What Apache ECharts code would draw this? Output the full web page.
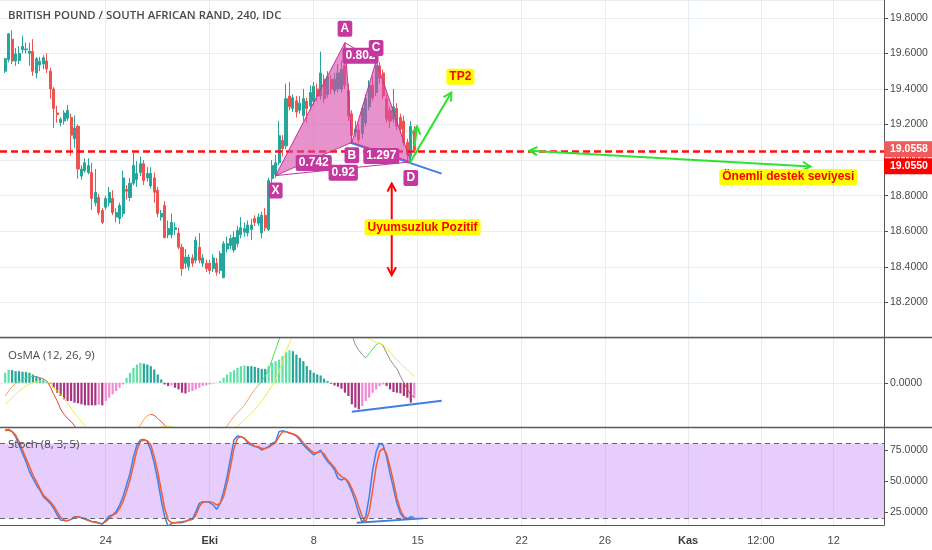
<!DOCTYPE html>
<html><head><meta charset="utf-8">
<script src="https://cdn.jsdelivr.net/npm/echarts@6/dist/echarts.min.js"></script>
<style>html,body{margin:0;padding:0;background:#fff}#c{width:932px;height:550px}</style>
</head><body><div id="c"></div>
<script>
// ---------------- DATA ----------------
const SLOT_COUNT = 255;          // bar slots on the time axis (incl. future space)
const FIRST_INDEX = 1;           // slot of the first candle
const xTickIndex = [30, 60, 90, 120, 150, 174, 198, 219, 240];
const xTickText  = ['24', 'Eki', '8', '15', '22', '26', 'Kas', '12:00', '12'];
const xTickBold  = ['Eki', 'Kas'];
const titleText = 'BRITISH POUND / SOUTH AFRICAN RAND, 240, IDC';
const osmaTitle = 'OsMA (12, 26, 9)';
const stochTitle = 'Stoch (8, 3, 5)';

// candles: [open, close, low, high]
const candles = [
[19.50,19.57,19.49,19.575],[19.565,19.71,19.55,19.715],[19.68,19.557,19.54,19.73],[19.557,19.597,19.53,19.63],
[19.56,19.60,19.54,19.64],[19.62,19.64,19.60,19.70],[19.62,19.625,19.60,19.66],[19.60,19.613,19.53,19.66],
[19.61,19.50,19.473,19.68],[19.49,19.57,19.46,19.58],[19.535,19.555,19.50,19.58],[19.54,19.575,19.51,19.59],
[19.557,19.513,19.49,19.60],[19.50,19.40,19.345,19.52],[19.40,19.29,19.18,19.41],[19.265,19.255,19.21,19.305],
[19.21,19.23,19.19,19.24],[19.22,19.265,19.20,19.28],[19.235,19.28,19.22,19.31],[19.24,19.14,19.025,19.26],
[19.12,19.18,19.07,19.25],[19.19,18.95,18.895,19.20],[18.91,18.95,18.89,18.97],[18.94,18.985,18.93,19.01],
[18.93,18.97,18.92,19.01],[18.93,18.785,18.72,18.985],[18.76,18.818,18.74,18.95],[18.79,18.705,18.69,18.81],
[18.717,18.65,18.64,18.73],[18.735,18.784,18.72,18.80],[18.76,18.818,18.74,18.85],[18.784,18.705,18.69,18.83],
[18.68,18.705,18.65,18.73],[18.672,18.745,18.64,18.76],[18.70,18.90,18.68,18.94],[18.835,18.825,18.78,18.86],
[18.79,18.87,18.77,18.90],[18.87,18.97,18.86,19.04],[18.89,18.925,18.85,18.995],[18.93,18.98,18.91,19.02],
[18.98,18.885,18.86,19.00],[18.90,18.925,18.88,18.96],[18.855,18.925,18.84,18.96],[18.90,18.82,18.76,18.93],
[18.83,18.70,18.68,18.85],[18.68,18.70,18.66,18.72],[18.745,18.565,18.56,18.77],[18.58,18.615,18.56,18.66],
[18.58,18.65,18.56,18.70],[18.61,18.62,18.58,18.65],[18.59,18.51,18.50,18.62],[18.51,18.39,18.35,18.53],
[18.42,18.455,18.39,18.50],[18.40,18.455,18.38,18.47],[18.45,18.42,18.40,18.47],[18.437,18.55,18.42,18.57],
[18.51,18.437,18.42,18.59],[18.42,18.45,18.40,18.47],[18.42,18.39,18.37,18.44],[18.42,18.38,18.36,18.44],
[18.39,18.45,18.37,18.47],[18.42,18.37,18.35,18.45],[18.38,18.475,18.36,18.49],[18.34,18.53,18.335,18.545],
[18.50,18.53,18.48,18.57],[18.52,18.56,18.50,18.58],[18.495,18.565,18.48,18.60],[18.53,18.605,18.51,18.63],
[18.58,18.62,18.56,18.68],[18.595,18.615,18.57,18.65],[18.59,18.635,18.57,18.66],[18.61,18.635,18.55,18.67],
[18.672,18.65,18.63,18.69],[18.645,18.68,18.63,18.70],[18.59,18.69,18.56,18.71],[18.69,18.62,18.60,18.73],
[18.61,18.885,18.60,18.90],[18.897,18.97,18.87,19.00],[18.92,18.985,18.90,19.03],[18.985,19.137,18.97,19.22],
[19.11,19.065,19.02,19.14],[19.08,19.345,19.06,19.43],[19.36,19.30,19.28,19.44],[19.29,19.35,19.27,19.37],
[19.333,19.27,19.24,19.36],[19.28,19.32,19.26,19.36],[19.25,19.345,19.22,19.40],[19.33,19.29,19.21,19.35],
[19.305,19.38,19.28,19.42],[19.33,19.415,19.31,19.44],[19.40,19.36,19.33,19.43],[19.36,19.49,19.34,19.61],
[19.455,19.345,19.32,19.48],[19.37,19.47,19.35,19.50],[19.455,19.40,19.37,19.48],[19.39,19.455,19.37,19.49],
[19.40,19.49,19.38,19.54],[19.40,19.51,19.38,19.56],[19.53,19.42,19.40,19.66],[19.39,19.25,19.22,19.43],
[19.26,19.14,19.10,19.28],[19.155,19.175,19.13,19.22],[19.17,19.115,19.095,19.20],[19.15,19.29,19.12,19.31],
[19.21,19.345,19.19,19.37],[19.30,19.42,19.28,19.45],[19.42,19.35,19.33,19.47],[19.38,19.53,19.36,19.56],
[19.53,19.46,19.43,19.55],[19.49,19.36,19.34,19.51],[19.345,19.23,19.21,19.37],[19.28,19.22,19.18,19.30],
[19.23,19.30,19.21,19.40],[19.29,19.19,19.17,19.32],[19.24,19.175,19.15,19.26],[19.22,19.10,19.08,19.25],
[19.10,19.03,18.99,19.12],[19.02,19.19,19.00,19.22],[19.17,19.0558,19.04,19.19]
];

const osma = [
0.010,0.013,0.0127,0.0117,0.0117,0.011,0.0107,0.010,0.0083,0.0067,
0.005,0.0033,0.0017,-0.001,-0.005,-0.010,-0.0133,-0.0167,-0.0183,-0.0183,
-0.020,-0.0207,-0.0217,-0.0227,-0.0227,-0.0227,-0.0227,-0.022,-0.0227,-0.0183,
-0.015,-0.0117,-0.0083,-0.005,-0.0017,0.005,0.010,0.015,0.0183,0.020,
0.0193,0.0183,0.0167,0.0133,0.0083,0.0033,-0.0017,-0.0033,-0.0027,-0.005,
-0.0067,-0.010,-0.0107,-0.0093,-0.0083,-0.0067,-0.005,-0.0033,-0.0027,-0.0017,
-0.0007,0.0003,0.0017,0.005,0.0083,0.0107,0.0127,0.015,0.0167,0.0173,
0.0167,0.0167,0.016,0.015,0.014,0.014,0.0167,0.020,0.0217,0.0233,
0.0267,0.0307,0.0327,0.0317,0.0283,0.025,0.0217,0.0167,0.0127,0.010,
0.0083,0.0073,0.004,0.0017,-0.001,-0.0027,-0.004,-0.006,-0.010,-0.0133,
-0.0217,-0.025,-0.0267,-0.0233,-0.0183,-0.015,-0.010,-0.0067,-0.0033,-0.0017,
-0.0033,-0.0067,-0.0093,-0.010,-0.0107,-0.0133,-0.015,-0.020,-0.015
];

const macd = [
-0.0133,-0.0083,-0.004,-0.0007,0.0017,0.0033,0.005,0.006,0.0067,0.006,
0.005,0.004,0.0017,-0.004,-0.0117,-0.0183,-0.0267,-0.0317,-0.036,-0.039,
-0.0433,-0.048,-0.053,-0.058,-0.062,-0.066,-0.070,-0.074,-0.077,-0.079,
-0.080,-0.079,-0.076,-0.071,-0.065,-0.059,-0.054,-0.050,-0.0467,-0.0427,
-0.0367,-0.0333,-0.0317,-0.0327,-0.036,-0.039,-0.0427,-0.046,-0.050,-0.054,
-0.058,-0.062,-0.066,-0.068,-0.070,-0.071,-0.071,-0.070,-0.068,-0.066,
-0.063,-0.059,-0.055,-0.050,-0.0433,-0.0383,-0.034,-0.030,-0.0267,-0.0227,
-0.0173,-0.0117,-0.0067,-0.0027,0.0017,0.0067,0.0133,0.0233,0.0333,0.0433,
0.053,0.065,0.075,0.083,0.090,0.095,0.098,0.100,0.100,0.099,
0.097,0.095,0.092,0.088,0.084,0.080,0.077,0.074,0.071,0.060,
0.048,0.0383,0.0327,0.0283,0.025,0.0293,0.034,0.0383,0.040,0.0373,
0.030,0.0233,0.0183,0.014,0.0067,0,-0.0067,-0.0117,-0.015
];

const signal = [
-0.0217,-0.0183,-0.015,-0.0117,-0.0083,-0.0057,-0.0033,-0.0017,0,0.001,
0.0017,0.0017,0.001,-0.0007,-0.005,-0.0083,-0.0117,-0.016,-0.0207,-0.026,
-0.0307,-0.035,-0.039,-0.0433,-0.047,-0.051,-0.054,-0.057,-0.060,-0.062,
-0.064,-0.065,-0.066,-0.066,-0.066,-0.065,-0.063,-0.061,-0.059,-0.057,
-0.055,-0.053,-0.051,-0.049,-0.047,-0.0445,-0.0437,-0.0435,-0.044,-0.0455,
-0.047,-0.049,-0.051,-0.053,-0.055,-0.057,-0.059,-0.060,-0.061,-0.061,
-0.061,-0.060,-0.059,-0.058,-0.056,-0.054,-0.049,-0.0433,-0.0407,-0.0373,
-0.034,-0.0307,-0.0267,-0.0227,-0.0183,-0.0133,-0.0083,-0.0027,0.0033,0.0117,
0.020,0.0317,0.040,0.048,0.055,0.062,0.068,0.073,0.077,0.080,
0.082,0.083,0.084,0.084,0.083,0.081,0.079,0.077,0.074,0.071,
0.067,0.063,0.058,0.053,0.0467,0.0443,0.0423,0.0407,0.0393,0.0383,
0.035,0.0307,0.0267,0.0227,0.0193,0.016,0.0127,0.0093,0.0067
];

const stochK = [
90.8,91.3,89.5,85.5,78.8,72.1,65.5,57.5,52.1,46.8,
42.8,37.5,34.8,32.1,28.1,22.8,18.8,18.3,18.3,19.3,
21.5,21.5,20.7,20.1,18.8,17.5,17.5,16.7,15.3,18.8,
22.0,22.8,25.5,30.8,37.5,46.8,56.1,69.5,78.8,82.8,
83.3,81.5,74.8,64.1,50.8,34.8,21.5,13.5,16.1,16.7,
16.7,16.7,17.5,18.8,19.3,25.5,32.1,33.5,33.5,32.7,
30.8,27.3,32.1,41.5,53.5,68.1,82.8,86.0,85.5,84.1,
80.1,78.8,77.5,76.9,74.8,76.1,77.5,80.1,81.5,89.5,
90.3,89.5,88.1,87.6,86.0,82.8,78.8,76.1,73.5,70.8,
72.7,74.8,69.5,65.5,62.8,58.8,52.1,50.8,52.1,48.1,
41.5,33.5,24.1,16.7,21.5,37.5,58.8,73.5,80.1,78.8,
69.5,56.1,44.1,32.1,24.1,20.1,19.3,21.5,20.7
];

const stochD = [
90.3,90.8,89.5,86.8,81.5,74.8,68.1,61.5,54.8,49.5,
44.1,38.8,36.1,33.5,30.0,25.5,20.9,18.8,18.3,19.3,
20.9,21.5,20.7,19.3,18.3,17.5,16.7,16.1,16.1,17.5,
20.1,22.8,24.1,28.1,33.5,41.5,50.8,62.8,74.8,81.5,
82.8,82.3,78.8,69.5,57.5,42.8,28.1,18.8,16.7,16.7,
17.2,17.5,18.0,18.8,19.3,22.8,29.5,33.0,33.5,33.5,
32.7,30.8,32.1,37.5,48.1,61.5,76.1,84.1,85.5,84.1,
81.5,79.5,77.9,77.5,76.1,76.1,76.9,78.8,80.7,85.5,
89.5,89.5,88.7,87.6,86.5,84.1,80.7,77.5,74.8,72.7,
72.7,73.5,71.6,67.3,64.1,60.9,56.1,53.5,52.1,49.5,
44.1,37.5,29.5,21.5,17.5,25.5,42.8,61.5,73.5,76.1,
72.1,61.5,49.5,36.1,26.8,21.5,20.1,20.1,20.9
];

const supportLevel = 19.0550;
const lastPrice = 19.0558;
const stochLevels = [20, 80];
const stochTickValues = [25, 50, 75];

// Harmonic pattern anchors (slot index, price)
const patternNames = ['X', 'A', 'B', 'C', 'D'];
const patternIdx   = [79, 99, 101, 108, 118];
const patternPrice = [18.913, 19.66, 19.10, 19.557, 18.99];
const ratioText    = ['0.742', '0.92', '1.297', '0.802'];   // XB, XD, BD, AC

// drawings (slot index, value)
const tp2Arrow     = [[117.7, 18.983], [129.7, 19.38]];
const smallArrow   = [[119.1, 19.08], [119.8, 19.19]];
const redArrow     = [[112.5, 18.868], [112.5, 18.353]];
const supportArrow = [[152.2, 19.053], [233.3, 18.964]];
const blueTrend    = [[100.4, 19.098], [126.9, 18.924]];
const osmaTrend    = [[101.0, -0.0291], [126.9, -0.0181]];
const stochTrend   = [[102.4, 16.6], [121.6, 20.1]];
const noteTP2      = {text: 'TP2', at: [132.3, 19.468]};
const noteDiv      = {text: 'Uyumsuzluk Pozitif', at: [121.4, 18.622]};
const noteSupport  = {text: 'Önemli destek seviyesi', at: [226.9, 18.905]};

// ---------------- CHART ----------------
const FONT = '"Liberation Sans", Arial, sans-serif';
const TITLE_FONT = '"Open Sans", "Noto Sans", sans-serif';
const AXIS_COLOR = '#555';
const GRID_COLOR = '#e6edf3';
const LABEL_COLOR = '#4a4a4a';
const cats = Array.from({length: SLOT_COUNT}, (_, i) => String(i));
const tickSet = new Set(xTickIndex);

const chart = echarts.init(document.getElementById('c'), null, {renderer: 'canvas'});

function xAxisCfg(gi, showLabels) {
  return {
    type: 'category', gridIndex: gi, data: cats, boundaryGap: true,
    axisLine: {show: showLabels, onZero: false, lineStyle: {color: AXIS_COLOR, width: 1}},
    axisTick: {show: false},
    axisLabel: {
      show: showLabels, interval: (i) => tickSet.has(i), color: LABEL_COLOR,
      fontSize: 11, fontFamily: FONT, margin: 10,
      formatter: (v) => {
        const t = xTickText[xTickIndex.indexOf(Number(v))];
        return xTickBold.includes(t) ? '{b|' + t + '}' : t;
      },
      rich: {b: {fontWeight: 'bold', color: '#3c3c3c', fontSize: 11, fontFamily: FONT}}
    },
    splitLine: {show: true, interval: (i) => tickSet.has(i), alignWithLabel: true, lineStyle: {color: GRID_COLOR, width: 1}}
  };
}

const yBase = {
  type: 'value', position: 'right',
  axisLine: {show: true, lineStyle: {color: AXIS_COLOR, width: 1}},
  axisTick: {show: true, length: 4, lineStyle: {color: AXIS_COLOR}},
  axisLabel: {color: LABEL_COLOR, fontSize: 10.5, fontFamily: FONT, margin: 6}
};

// OsMA histogram colours
const osmaData = osma.map((v, i) => {
  const p = i > 0 ? osma[i - 1] : v - 0.001;
  let c;
  if (v >= 0) c = v > p ? '#5ee0a6' : '#26a69a';
  else c = v <= p ? '#a8357f' : '#f08ad6';
  return {value: [FIRST_INDEX + i, v], itemStyle: {color: c}};
});

// MACD line coloured by state
function macdColor(i) {
  const v = macd[i];
  const rising = i > 0 ? v >= macd[i - 1] : macd[1] >= macd[0];
  if (v >= 0) return rising ? '#4fdc6a' : '#8c8c8c';
  return rising ? '#ff9f5a' : '#f23b3b';
}
const macdSeries = [];
let cur = null;
for (let i = 1; i < macd.length; i++) {
  const col = macdColor(i);
  if (!cur || cur.color !== col) {
    cur = {color: col, pts: [[FIRST_INDEX + i - 1, macd[i - 1]]]};
    macdSeries.push(cur);
  }
  cur.pts.push([FIRST_INDEX + i, macd[i]]);
}

const option = {
  animation: false,
  backgroundColor: '#ffffff',
  grid: [
    {left: -3, right: 48, top: -1.15, height: 339.15},
    {left: -3, right: 48, top: 338, height: 89.5},
    {left: -3, right: 48, top: 427.5, height: 97.5}
  ],
  xAxis: [xAxisCfg(0, false), xAxisCfg(1, false), xAxisCfg(2, true)],
  yAxis: [
    Object.assign({}, yBase, {
      gridIndex: 0, min: 18.0, max: 19.9, interval: 0.2,
      axisLabel: Object.assign({}, yBase.axisLabel, {formatter: (v) => v.toFixed(4), showMinLabel: false, showMaxLabel: false}),
      splitLine: {show: true, lineStyle: {color: GRID_COLOR}}
    }),
    Object.assign({}, yBase, {
      gridIndex: 1, min: -0.045, max: 0.045, interval: 0.045,
      axisLabel: Object.assign({}, yBase.axisLabel, {formatter: (v) => Math.abs(v) < 1e-9 ? '0.0000' : '', showMinLabel: false, showMaxLabel: false}),
      splitLine: {show: true, lineStyle: {color: GRID_COLOR}}
    }),
    Object.assign({}, yBase, {
      gridIndex: 2, min: 14.8, max: 92.8,
      axisLabel: Object.assign({}, yBase.axisLabel, {customValues: stochTickValues, formatter: (v) => v.toFixed(4)}),
      axisTick: Object.assign({}, yBase.axisTick, {customValues: stochTickValues}),
      splitLine: {show: false}
    })
  ],
  series: [
    {
      type: 'candlestick', xAxisIndex: 0, yAxisIndex: 0,
      data: candles.map((c, i) => [FIRST_INDEX + i, c[0], c[1], c[2], c[3]]),
      encode: {x: 0, y: [1, 2, 3, 4]},
      barWidth: 2.6,
      itemStyle: {color: '#26a69a', color0: '#ef5350', borderColor: '#26a69a', borderColor0: '#ef5350', borderWidth: 1},
      markLine: {
        silent: true, symbol: ['none', 'none'], animation: false,
        label: {show: false},
        lineStyle: {color: '#ff1010', width: 2.5, type: [7, 4]},
        data: [{yAxis: supportLevel}]
      }
    },
    {
      type: 'bar', xAxisIndex: 1, yAxisIndex: 1, barWidth: 2.2, data: osmaData, z: 2
    },
    ...macdSeries.map(s => ({
      type: 'line', xAxisIndex: 1, yAxisIndex: 1, data: s.pts, showSymbol: false, symbol: 'none',
      lineStyle: {color: s.color, width: 1}, z: 3, clip: true
    })),
    {
      type: 'line', xAxisIndex: 1, yAxisIndex: 1, showSymbol: false, symbol: 'none', clip: true,
      data: signal.map((v, i) => [FIRST_INDEX + i, v]),
      lineStyle: {color: '#f2ec3a', width: 1}, z: 3
    },
    {
      type: 'line', xAxisIndex: 2, yAxisIndex: 2, showSymbol: false, symbol: 'none', clip: true,
      data: stochK.map((v, i) => [FIRST_INDEX + i, v]),
      lineStyle: {color: '#3b82f0', width: 1.5}, z: 3,
      markArea: {
        silent: true, label: {show: false},
        itemStyle: {color: 'rgba(176, 100, 245, 0.32)'},
        data: [[{yAxis: stochLevels[0]}, {yAxis: stochLevels[1]}]]
      },
      markLine: {
        silent: true, symbol: ['none', 'none'], label: {show: false},
        lineStyle: {color: '#666', width: 1, type: [5, 4]},
        data: stochLevels.map(v => ({yAxis: v}))
      }
    },
    {
      type: 'line', xAxisIndex: 2, yAxisIndex: 2, showSymbol: false, symbol: 'none', clip: true,
      data: stochD.map((v, i) => [FIRST_INDEX + i, v]),
      lineStyle: {color: '#f75c2d', width: 1.5}, z: 4
    }
  ]
};
chart.setOption(option);

// ---------------- DRAWINGS ----------------
function toPx(g, k, v) {
  const k0 = Math.floor(k);
  const p0 = chart.convertToPixel({xAxisIndex: g, yAxisIndex: g}, [k0, v]);
  const p1 = chart.convertToPixel({xAxisIndex: g, yAxisIndex: g}, [k0 + 1, v]);
  return [p0[0] + (k - k0) * (p1[0] - p0[0]), p0[1]];
}
function seg(a, b, color, w, z, dash) {
  return {type: 'line', shape: {x1: a[0], y1: a[1], x2: b[0], y2: b[1]}, style: {stroke: color, lineWidth: w, lineDash: dash || null}, z: z, silent: true};
}
function head(from, to, color, w, z) {
  const dx = to[0] - from[0], dy = to[1] - from[1];
  const L = Math.hypot(dx, dy), ux = dx / L, uy = dy / L;
  const len = 9, a = 0.5;
  const r = (ang) => [to[0] - len * (ux * Math.cos(ang) - uy * Math.sin(ang)), to[1] - len * (uy * Math.cos(ang) + ux * Math.sin(ang))];
  return {type: 'polyline', shape: {points: [r(a), to, r(-a)]}, style: {stroke: color, lineWidth: w, fill: null}, z: z, silent: true};
}
function box(text, p, bg, fg, font, z, pad) {
  return {type: 'text', x: p[0], y: p[1], z: z, silent: true,
    style: {text: text, fill: fg, font: font, align: 'center', verticalAlign: 'middle',
      backgroundColor: bg, padding: pad || [2, 3], borderRadius: 2}};
}

const g = [];
const PINK_LINE = '#c2329c';
const PINK_BOX = '#c5389f';
const P = patternIdx.map((k, i) => toPx(0, k, patternPrice[i]));
const [X, A, B, C, D] = P;

// blue trend under pattern
g.push(seg(toPx(0, ...blueTrend[0]), toPx(0, ...blueTrend[1]), '#3f7fe0', 2, 20));
// filled triangles
g.push({type: 'polygon', shape: {points: [X, A, B]}, style: {fill: 'rgba(217, 74, 168, 0.6)', stroke: PINK_LINE, lineWidth: 1}, z: 21, silent: true});
g.push({type: 'polygon', shape: {points: [B, C, D]}, style: {fill: 'rgba(217, 74, 168, 0.6)', stroke: PINK_LINE, lineWidth: 1}, z: 21, silent: true});
g.push(seg(X, D, PINK_LINE, 1, 22));
g.push(seg(A, C, PINK_LINE, 1, 22));
// ratio labels
const mid = (p, q) => [(p[0] + q[0]) / 2, (p[1] + q[1]) / 2 + 4];
const ratioPos = [mid(X, B), mid(X, D), mid(B, D), mid(A, C)];
const BOXFONT = 'bold 12px ' + FONT;
ratioText.forEach((t, i) => g.push(box(t, ratioPos[i], PINK_BOX, '#ffffff', BOXFONT, 24, [2, 3])));
// vertex labels
const vOff = [15, -14, 13, -13, 16];
P.forEach((p, i) => g.push(box(patternNames[i], [p[0], p[1] + vOff[i]], PINK_BOX, '#ffffff', BOXFONT, 25, [2, 3])));

// green arrows
const GREEN = '#2ee32e';
{
  const a = toPx(0, ...tp2Arrow[0]), b = toPx(0, ...tp2Arrow[1]);
  g.push(seg(a, b, GREEN, 2, 26)); g.push(head(a, b, GREEN, 2, 26));
  const c = toPx(0, ...smallArrow[0]), d = toPx(0, ...smallArrow[1]);
  g.push(seg(c, d, GREEN, 2, 26)); g.push(head(c, d, GREEN, 2, 26));
  const e = toPx(0, ...supportArrow[0]), f = toPx(0, ...supportArrow[1]);
  g.push(seg(e, f, GREEN, 2, 26)); g.push(head(e, f, GREEN, 2, 26)); g.push(head(f, e, GREEN, 2, 26));
}
// red double arrow
{
  const a = toPx(0, ...redArrow[0]), b = toPx(0, ...redArrow[1]);
  g.push(seg(a, b, '#ff0000', 2, 26)); g.push(head(b, a, '#ff0000', 2, 26)); g.push(head(a, b, '#ff0000', 2, 26));
}
// notes
const NOTEFONT = 'bold 12px ' + FONT;
[noteTP2, noteDiv, noteSupport].forEach(n => g.push(box(n.text, toPx(0, ...n.at), '#ffff00', '#ff0000', NOTEFONT, 27, [2, 3])));

// indicator trend lines
g.push(seg(toPx(1, ...osmaTrend[0]), toPx(1, ...osmaTrend[1]), '#3f7fe0', 2, 26));
g.push(seg(toPx(2, ...stochTrend[0]), toPx(2, ...stochTrend[1]), '#3f7fe0', 2, 26));

// pane separators
const ySep1 = 337.5, ySep2 = 427.5;
g.push(seg([0, ySep1], [932, ySep1], '#5a5a5a', 1.5, 40));
g.push(seg([0, ySep2], [932, ySep2], '#5a5a5a', 1.5, 40));

// titles
const TSTYLE = {fill: '#4a4a4a', font: '600 11.4px ' + TITLE_FONT, verticalAlign: 'middle'};
g.push({type: 'text', x: 8, y: 16, z: 40, silent: true, style: Object.assign({text: titleText}, TSTYLE)});
g.push({type: 'text', x: 8, y: 356, z: 40, silent: true, style: Object.assign({text: osmaTitle}, TSTYLE, {font: '11.5px ' + TITLE_FONT})});
g.push({type: 'text', x: 8, y: 445, z: 40, silent: true, style: Object.assign({text: stochTitle}, TSTYLE, {font: '11.5px ' + TITLE_FONT})});

// price labels on the axis
{
  const yl = toPx(0, 0, lastPrice)[1];
  g.push({type: 'rect', shape: {x: 884, y: yl - 9, width: 48, height: 16}, style: {fill: '#ef5a5a'}, z: 41, silent: true});
  g.push({type: 'text', x: 890, y: yl - 1, z: 42, silent: true, style: {text: lastPrice.toFixed(4), fill: '#fff', font: 'bold 10.5px ' + FONT, verticalAlign: 'middle'}});
  g.push({type: 'rect', shape: {x: 884, y: yl + 8, width: 48, height: 16}, style: {fill: '#ff0000'}, z: 41, silent: true});
  g.push({type: 'text', x: 890, y: yl + 16, z: 42, silent: true, style: {text: supportLevel.toFixed(4), fill: '#fff', font: 'bold 10.5px ' + FONT, verticalAlign: 'middle'}});
}

chart.setOption({graphic: {elements: g}});
</script>
</body></html>
